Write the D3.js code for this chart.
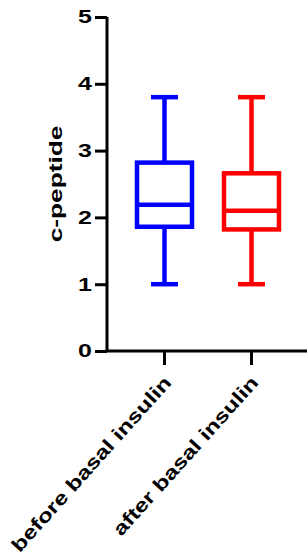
<!DOCTYPE html>
<html>
<head>
<meta charset="utf-8">
<script src="https://cdn.jsdelivr.net/npm/d3@7"></script>
<style>
  body { margin: 0; background: #fff; }
  svg text { font-family: "Liberation Sans", Arial, sans-serif; font-weight: bold; fill: #000; }
</style>
</head>
<body>
<div id="chart"></div>
<script>
const groups = ['before basal insulin', 'after basal insulin'];
const whiskerMin = [1.0, 1.0];
const q1 = [1.86, 1.82];
const median = [2.19, 2.10];
const q3 = [2.82, 2.66];
const whiskerMax = [3.8, 3.8];
const colors = ['#0000ff', '#ff0000'];
const yTicks = [0, 1, 2, 3, 4, 5];

const W = 307, H = 556;
const margin = {top: 17, left: 107, bottom: 205};
const plotBottom = H - margin.bottom;

const svg = d3.select('#chart').append('svg')
  .attr('width', W)
  .attr('height', H);

const y = d3.scaleLinear()
  .domain([0, 5])
  .range([plotBottom, margin.top]);

const x = d3.scaleBand()
  .domain(groups)
  .range([121, 295]);

const boxW = 55, capW = 27;

const data = groups.map((g, i) => ({
  g, min: whiskerMin[i], q1: q1[i], med: median[i], q3: q3[i], max: whiskerMax[i], color: colors[i]
}));

const boxes = svg.append('g').selectAll('g')
  .data(data)
  .enter().append('g')
  .attr('fill', 'none')
  .attr('stroke', d => d.color)
  .attr('stroke-width', 4.5);

const cx = d => x(d.g) + x.bandwidth() / 2;

// whiskers
boxes.append('line')
  .attr('x1', cx).attr('x2', cx)
  .attr('y1', d => y(d.max)).attr('y2', d => y(d.q3));
boxes.append('line')
  .attr('x1', cx).attr('x2', cx)
  .attr('y1', d => y(d.q1)).attr('y2', d => y(d.min));
boxes.append('line')
  .attr('x1', d => cx(d) - capW / 2).attr('x2', d => cx(d) + capW / 2)
  .attr('y1', d => y(d.max)).attr('y2', d => y(d.max));
boxes.append('line')
  .attr('x1', d => cx(d) - capW / 2).attr('x2', d => cx(d) + capW / 2)
  .attr('y1', d => y(d.min)).attr('y2', d => y(d.min));
// box
boxes.append('rect')
  .attr('x', d => cx(d) - boxW / 2)
  .attr('width', boxW)
  .attr('y', d => y(d.q3))
  .attr('height', d => y(d.q1) - y(d.q3));
boxes.append('line')
  .attr('x1', d => cx(d) - boxW / 2).attr('x2', d => cx(d) + boxW / 2)
  .attr('y1', d => y(d.med)).attr('y2', d => y(d.med));

// y axis
const yAxis = d3.axisLeft(y)
  .tickValues(yTicks)
  .tickFormat(d3.format('d'))
  .tickSize(12)
  .tickSizeOuter(0);

const yG = svg.append('g')
  .attr('transform', `translate(${margin.left},0)`)
  .call(yAxis);
yG.select('.domain').attr('d', `M0,${plotBottom}V${margin.top}`);
yG.selectAll('path, line').attr('stroke', '#000').attr('stroke-width', 3);
yG.selectAll('text')
  .attr('x', null)
  .attr('font-size', 18.5)
  .attr('font-family', null)
  .attr('transform', 'translate(-15,0) scale(1.35,1)');

// x axis
const xAxis = d3.axisBottom(x)
  .tickSize(14)
  .tickSizeOuter(0)
  .tickFormat('');
const xG = svg.append('g')
  .attr('transform', `translate(0,${plotBottom})`)
  .call(xAxis);
xG.select('.domain').attr('d', `M${margin.left - 1.5},0H${W}`);
xG.selectAll('path, line').attr('stroke', '#000').attr('stroke-width', 3);

svg.append('g').selectAll('text')
  .data(groups)
  .enter().append('text')
  .attr('text-anchor', 'end')
  .attr('font-size', 19)
  .attr('transform', d => `translate(${x(d) + x.bandwidth() / 2 + 8},${plotBottom + 32.5}) rotate(-48) scale(1.28,1)`)
  .text(d => d);

// y label
svg.append('text')
  .attr('text-anchor', 'middle')
  .attr('font-size', 17.5)
  .attr('transform', `translate(62,${y(2.5)}) rotate(-90) scale(1.5,1)`)
  .text('c-peptide');
</script>
</body>
</html>
